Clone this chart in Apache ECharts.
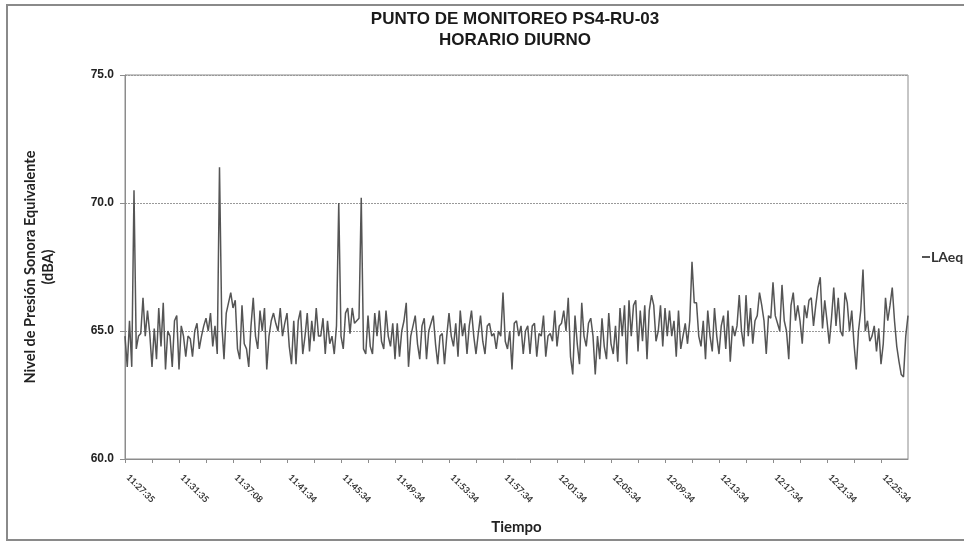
<!DOCTYPE html>
<html>
<head>
<meta charset="utf-8">
<script src="https://cdn.jsdelivr.net/npm/echarts@6/dist/echarts.min.js"></script>
<style>
html,body{margin:0;padding:0;background:#fff;}
#chart{width:964px;height:543px;}
</style>
</head>
<body>
<div id="chart"></div>
<script>
// Time tick labels (one every 24 samples)
var tickLabels = ['11:27:35','11:31:35','11:37:08','11:41:34','11:45:34','11:49:34','11:53:34','11:57:34','12:01:34','12:05:34','12:09:34','12:13:34','12:17:34','12:21:34','12:25:34'];
var yTicks = [60, 65, 70, 75];
var seriesName = 'LAeq';

// LAeq (dBA) samples, in four consecutive parts
var laeqPart1 = [
64.8,63.6,65.4,63.6,70.5,64.3,64.8,64.9,66.3,64.8,
65.8,64.9,63.6,65.1,63.9,65.9,64.4,66.1,63.5,65.0,
64.8,63.6,65.4,65.6,63.5,65.2,64.8,64.0,64.8,64.7,
64.0,65.0,65.3,64.3,64.8,65.2,65.5,65.0,65.7,64.4,
65.2,64.1,71.4,65.3,63.9,65.7,66.1,66.5,65.9,66.2,
64.3,63.9,66.0,64.5,64.3,63.6,65.2,66.3,64.8,64.3,
65.8,65.0,65.9,63.5,64.8,65.4,65.7,65.3,65.0,65.9,
64.8,65.3,65.7,64.4,63.7,65.4,63.7,65.4,65.8,64.1,
64.8,65.7,64.2,65.4,64.6,65.9,64.8
];
var laeqPart2 = [
64.8,65.5,64.1,65.4,64.5,64.8,64.1,65.2,70.0,64.8,
64.3,65.7,65.9,64.9,65.9,65.3,65.4,65.5,70.2,64.3,
64.1,65.6,64.4,64.1,65.7,64.8,65.8,64.6,64.3,65.8,
64.8,64.4,65.3,63.9,65.3,64.0,65.0,65.4,66.1,63.6,
64.8,65.2,65.6,64.5,63.9,65.2,65.5,63.9,65.0,65.3,
65.6,64.5,63.7,64.8,64.9,63.7,64.8,65.7,64.8,64.4,
65.3,64.0,65.8,64.8,65.3,64.1,65.2,65.8,64.8,64.1,
64.9,65.6,64.6,64.1,65.2,65.3,64.8,64.9,64.3,65.0,
64.8,66.5,64.6,64.3,65.0,63.5,65.3
];
var laeqPart3 = [
65.4,64.8,65.2,64.1,65.0,65.2,64.1,65.2,65.3,64.0,
64.9,64.8,65.6,64.0,64.8,64.9,64.6,65.8,64.4,65.2,
65.3,65.8,65.0,66.3,64.0,63.3,65.6,64.5,63.7,66.1,
64.8,64.4,65.3,65.5,64.8,63.3,64.8,63.9,65.5,64.4,
63.9,65.7,64.5,64.1,65.2,63.8,65.9,64.8,66.0,63.7,
66.2,64.8,66.0,66.2,64.2,65.8,64.6,66.0,63.9,65.8,
66.4,66.0,64.6,65.0,66.0,64.4,65.9,64.8,65.8,64.8,
65.4,64.0,65.8,64.3,64.8,65.3,64.5,65.4,67.7,66.1,
66.1,64.8,64.4,65.4,63.9,65.8,64.8
];
var laeqPart4 = [
64.2,65.9,64.8,64.1,65.2,65.6,64.3,65.8,63.8,65.2,
64.8,65.2,66.4,65.0,64.4,66.4,64.8,65.9,64.5,65.4,
65.6,66.5,66.0,65.4,64.1,65.6,65.5,66.9,65.6,65.3,
65.0,66.8,65.4,65.0,63.9,66.0,66.5,65.4,66.0,65.4,
64.5,66.0,65.5,66.2,66.3,65.2,66.0,66.7,67.1,65.1,
66.2,65.4,64.5,65.5,66.7,65.2,66.3,65.0,64.8,66.5,
66.1,65.0,65.8,64.5,63.5,65.0,65.8,67.4,65.0,65.4,
64.6,64.8,65.2,64.2,65.1,63.7,64.5,66.3,65.4,66.0,
66.7,65.4,64.4,63.8,63.3,63.2,64.8,65.6
];

var laeq = laeqPart1.concat(laeqPart2, laeqPart3, laeqPart4);
var samplesPerLabel = 24;
var seriesData = laeq.map(function (v, i) { return [i, v]; });

var chart = echarts.init(document.getElementById('chart'), null, {renderer: 'canvas'});
var sans = "'Liberation Sans', Arial, sans-serif";
var cal = "Lato, 'Open Sans', sans-serif";

chart.setOption({
  animation: false,
  backgroundColor: '#ffffff',
  title: {
    text: 'PUNTO DE MONITOREO PS4-RU-03\nHORARIO DIURNO',
    left: 510,
    top: 4,
    textAlign: 'center',
    textStyle: {fontFamily: sans, fontWeight: 'bold', fontSize: 17, color: '#1a1a1a', lineHeight: 21}
  },
  legend: {
    data: [seriesName],
    left: 922,
    top: 250,
    padding: 0,
    icon: 'rect',
    itemWidth: 8,
    itemHeight: 2,
    itemGap: 2,
    textStyle: {fontFamily: cal, fontWeight: 'bold', fontSize: 14, color: '#333', padding: [0,0,0,-4]}
  },
  graphic: [{
    type: 'rect',
    shape: {x: 7, y: 5, width: 1000, height: 535},
    style: {fill: 'none', stroke: '#8a8a8a', lineWidth: 2},
    silent: true
  }],
  grid: {left: 125, right: 56, top: 75, bottom: 84, show: true, borderColor: '#8c8c8c', borderWidth: 1, backgroundColor: 'transparent'},
  xAxis: {
    type: 'value',
    min: 0,
    max: laeq.length - 1,
    interval: samplesPerLabel / 2,
    name: 'Tiempo',
    nameLocation: 'middle',
    nameGap: 61,
    nameTextStyle: {fontFamily: cal, fontWeight: 'bold', fontSize: 15, color: '#222'},
    axisLine: {show: true, lineStyle: {color: '#8c8c8c', width: 1}},
    axisTick: {show: true, length: 4, lineStyle: {color: '#8c8c8c'}},
    splitLine: {show: false},
    axisLabel: {
      rotate: -45,
      margin: 14,
      padding: [0, 0, 0, 4],
      fontFamily: cal,
      fontWeight: 'bold',
      fontSize: 9,
      color: '#333',
      showMaxLabel: false,
      formatter: function (v) {
        if (v % samplesPerLabel !== 0) return '';
        var k = v / samplesPerLabel;
        return tickLabels[k] || '';
      }
    }
  },
  yAxis: {
    type: 'value',
    min: yTicks[0],
    max: yTicks[yTicks.length - 1],
    interval: 5,
    name: 'Nivel de Presión Sonora Equivalente\n(dBA)',
    nameLocation: 'middle',
    nameRotate: 90,
    nameGap: 68,
    nameTextStyle: {fontFamily: cal, fontWeight: 'bold', fontSize: 14.5, color: '#222', lineHeight: 18},
    axisLine: {show: true, lineStyle: {color: '#8c8c8c', width: 1}},
    axisTick: {show: true, length: 5, lineStyle: {color: '#8c8c8c'}},
    splitLine: {show: true, lineStyle: {color: '#999', type: [2, 1], width: 1}},
    axisLabel: {
      margin: 11,
      fontFamily: sans,
      fontWeight: 'bold',
      fontSize: 12,
      color: '#222',
      formatter: function (v) { return v.toFixed(1); }
    }
  },
  series: [{
    name: seriesName,
    type: 'line',
    data: seriesData,
    showSymbol: false,
    symbol: 'none',
    lineStyle: {color: '#555', width: 1.5},
    itemStyle: {color: '#555'}
  }]
});
</script>
</body>
</html>
